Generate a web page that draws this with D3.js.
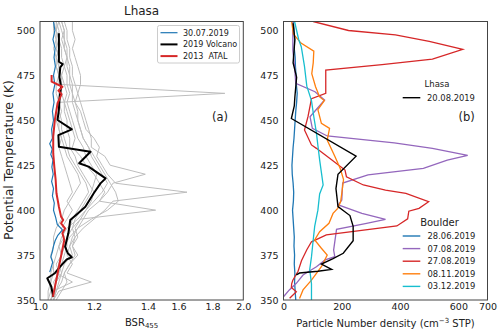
<!DOCTYPE html>
<html><head><meta charset="utf-8">
<script src="https://cdn.jsdelivr.net/npm/d3@7/dist/d3.min.js"></script>
<style>body{margin:0;background:#fff} text{font-family:"DejaVu Sans",sans-serif}</style>
</head><body><svg id="c" width="500" height="334"></svg>
<script>
// ---------- tick labels ----------
const yTicks = [350, 375, 400, 425, 450, 475, 500];
const leftTicks = [1.0, 1.2, 1.4, 1.6, 1.8, 2.0];
const rightTicks = [0, 200, 400, 600, 700];

// ---------- panel (a): BSR455 ----------
const greyT = [350,355,360,365,370,375,380,385,390,395,400,405,410,415,420,425,430,435,440,445,450,455,460,465,470,475,480,485,490,495,500,505];
const grey1 = [1.04,1.05,1.06,1.07,1.08,1.09,1.10,1.10,1.11,1.12,1.14,1.16,1.18,1.17,1.15,1.13,1.11,1.10,1.09,1.08,1.08,1.07,1.07,1.88,1.07,1.07,1.06,1.07,1.06,1.07,1.06,1.06];
const grey2 = [1.05,1.07,1.19,1.10,1.12,1.10,1.11,1.12,1.14,1.16,1.18,1.22,1.25,1.27,1.39,1.26,1.24,1.19,1.19,1.18,1.17,1.16,1.15,1.14,1.13,1.12,1.12,1.11,1.11,1.10,1.10,1.09];
const grey3 = [1.05,1.06,1.08,1.09,1.11,1.14,1.12,1.13,1.16,1.20,1.24,1.27,1.65,1.28,1.25,1.23,1.21,1.22,1.20,1.17,1.16,1.15,1.13,1.14,1.15,1.15,1.14,1.13,1.12,1.13,1.12,1.12];
const grey4 = [1.04,1.05,1.12,1.06,1.07,1.08,1.09,1.10,1.12,1.15,1.45,1.22,1.24,1.22,1.20,1.17,1.15,1.12,1.13,1.12,1.11,1.10,1.09,1.10,1.09,1.08,1.09,1.08,1.08,1.07,1.07,1.06];
const grey5 = [1.03,1.03,1.04,1.04,1.05,1.04,1.05,1.05,1.06,1.08,1.09,1.11,1.13,1.15,1.14,1.12,1.10,1.09,1.08,1.07,1.06,1.06,1.07,1.06,1.06,1.07,1.06,1.06,1.05,1.06,1.06,1.05];
const grey6 = [1.04,1.05,1.06,1.08,1.07,1.08,1.09,1.11,1.14,1.19,1.25,1.29,1.28,1.26,1.24,1.22,1.20,1.18,1.16,1.15,1.14,1.13,1.12,1.12,1.11,1.11,1.10,1.10,1.09,1.08,1.09,1.08];
const grey7 = [1.05,1.06,1.07,1.08,1.09,1.12,1.11,1.13,1.12,1.13,1.15,1.17,1.19,1.20,1.21,1.19,1.17,1.16,1.14,1.13,1.12,1.11,1.10,1.11,1.10,1.10,1.09,1.10,1.09,1.09,1.08,1.07];
const grey8 = [1.03,1.04,1.04,1.05,1.05,1.06,1.07,1.08,1.10,1.14,1.17,1.19,1.20,1.18,1.16,1.14,1.13,1.11,1.11,1.10,1.10,1.09,1.09,1.08,1.08,1.08,1.07,1.07,1.06,1.06,1.05,1.05];
const grey9 = [1.06,1.08,1.10,1.09,1.11,1.13,1.12,1.14,1.13,1.15,1.17,1.20,1.23,1.25,1.23,1.21,1.19,1.18,1.16,1.15,1.14,1.14,1.13,1.12,1.12,1.11,1.11,1.10,1.10,1.09,1.09,1.08];
const grey10 = [1.04,1.06,1.05,1.07,1.06,1.08,1.07,1.09,1.08,1.10,1.12,1.10,1.12,1.11,1.10,1.09,1.08,1.07,1.08,1.07,1.07,1.08,1.07,1.07,1.08,1.07,1.07,1.06,1.07,1.07,1.06,1.07];
const greySeries = [grey1, grey2, grey3, grey4, grey5, grey6, grey7, grey8, grey9, grey10];

const blueAT = [505,500,495,490,485,480,475,470,465,460,455,450,445,440,437,434,431,428,424,420,416,412,408,404,400,396,392,389,386,383,380,377,374,371,368,365.5];
const blueAV = [1.050,1.055,1.048,1.056,1.052,1.057,1.050,1.055,1.048,1.052,1.046,1.050,1.043,1.046,1.036,1.045,1.040,1.048,1.044,1.049,1.043,1.050,1.046,1.053,1.050,1.058,1.064,1.083,1.066,1.056,1.050,1.046,1.040,1.047,1.041,1.036];

const volcT = [498.4,482.6,481.3,479.5,474,468.7,463.1,456,450.2,445.0,441.8,435.3,432.5,426.1,424.2,417.7,414.9,409.4,401.9,398.2,394.5,387.1,379.7,376.0,373.8,372.6,368.5,364.9,362.1,357.4,351.8];
const volcV = [1.070,1.070,1.084,1.075,1.072,1.078,1.073,1.070,1.065,1.118,1.068,1.070,1.187,1.145,1.180,1.243,1.224,1.199,1.168,1.140,1.112,1.105,1.093,1.103,1.118,1.099,1.074,1.055,1.027,1.042,1.049];

const atalT = [475.2,471.5,468.7,466.5,464.6,459.5,450.2,440.9,431.6,424.2,416.8,409.4,401.9,396.4,394.5,392.7,389.9,387.1,383.4,376.0,368.5,359.3,351.8];
const atalV = [1.043,1.043,1.083,1.068,1.080,1.065,1.055,1.049,1.049,1.053,1.058,1.061,1.070,1.078,1.086,1.078,1.093,1.083,1.090,1.080,1.070,1.058,1.048];

// ---------- panel (b): particle number density ----------
const lhasaT = [504,495,482,474,463,458,451,430,420,412,402,397,391,383,376,373,370,367,366,365,364];
const lhasaN = [33,39,33,45,39,37,27,249,187,180,187,228,239,239,205,170,130,165,118,55,44];

const b0628T = [505,500,495,490,485,480,475,470,465,460,455,450,445,440,435,430,425,420,415,410,405,400,395,390,385,380,375,370,365,360,355,350];
const b0628N = [34,36,38,37,40,41,43,44,47,45,42,40,38,36,33,31,29,30,33,35,34,31,33,35,37,36,38,37,39,38,40,42];

const b0807T = [506,489,480,470.6,465.9,461.3,452,445.5,441.3,437.5,434.4,430.5,427.9,423.3,419.6,415.1,405.6,402.9,398.2,394.9,392.7,389.3,377.8,374.1,372.3,368.5,363.9,359.3,355.6,351.8];
const b0807N = [32,32,38,42,108,141,91,99,150,380,511,632,562,480,290,203,200,188,269,350,285,182,172,176,143,113,67,44,20,0];

const b0827T = [505,500,497.5,494,489.5,484,481,478,465,462,452,444.6,436.3,434.4,428,422.3,418.6,414,411.2,409.4,404.7,401,399.4,395.2,391.2,386.2,382.4,378,372,366,361,359,357,354.6,351];
const b0827N = [102,223,384,500,615,511,338,145,145,96,84,72,96,113,165,211,216,274,350,420,498,465,430,426,389,147,96,80,62,50,32,28,27,44,21];

const b1108T = [505,498,493,488.5,482,476,468.7,463,461,456,448.3,445.5,439,430,423,417,409.4,404.7,401,398.2,392.7,388,383.4,378.8,375,368.5,361.1,355.6,350.9];
const b1108N = [28,34,60,104,102,97,110,124,140,118,130,158,150,176,195,206,200,196,186,170,156,124,107,130,150,130,96,67,55];

const b1203T = [505,495,491,480,469,461,452,443,436,428,421,414,409,400,391,382,374,367,359,350];
const b1203N = [38,52,61,72,80,96,104,113,118,124,130,136,124,118,107,101,96,90,96,96];

const boulderLabels = ["28.06.2019","07.08.2019","27.08.2019","08.11.2019","03.12.2019"];
const boulderColors = ["#1f77b4","#9467bd","#d62728","#ff7f0e","#17becf"];
const boulderT = [b0628T, b0807T, b0827T, b1108T, b1203T];
const boulderN = [b0628N, b0807N, b0827N, b1108N, b1203N];

// ---------- drawing ----------
const svg = d3.select("#c");
const yTop = 21.5, yBot = 300;
const y = d3.scaleLinear().domain([350, 505]).range([yBot, yTop]);
const xL = d3.scaleLinear().domain(leftTicks).range([40, 94, 148, 178.5, 212.5, 243.3]);
const xR = d3.scaleLinear().domain([0, 700]).range([283.5, 487.5]);

const defs = svg.append("defs");
defs.append("clipPath").attr("id","clipA").append("rect")
  .attr("x",40).attr("y",yTop).attr("width",203.3).attr("height",yBot-yTop);
defs.append("clipPath").attr("id","clipB").append("rect")
  .attr("x",283.5).attr("y",yTop).attr("width",204).attr("height",yBot-yTop);

const zip = (ts, vs) => ts.map((t,i)=>[vs[i], t]);
const lineA = d3.line().x(d=>xL(d[0])).y(d=>y(d[1]));
const lineB = d3.line().x(d=>xR(d[0])).y(d=>y(d[1]));

// panel a
const gA = svg.append("g").attr("clip-path","url(#clipA)");
greySeries.forEach(s=>{
  gA.append("path").attr("d", lineA(zip(greyT, s))).attr("fill","none")
    .attr("stroke","#bdbdbd").attr("stroke-width",1);
});
gA.append("path").attr("d", lineA(zip(blueAT, blueAV))).attr("fill","none")
  .attr("stroke","#1f77b4").attr("stroke-width",1.2);
gA.append("path").attr("d", lineA(zip(volcT, volcV))).attr("fill","none")
  .attr("stroke","#000").attr("stroke-width",2).attr("stroke-linejoin","round");
gA.append("path").attr("d", lineA(zip(atalT, atalV))).attr("fill","none")
  .attr("stroke","#d62728").attr("stroke-width",2).attr("stroke-linejoin","round");

// panel b
const gB = svg.append("g").attr("clip-path","url(#clipB)");
boulderT.forEach((ts,i)=>{
  gB.append("path").attr("d", lineB(zip(ts, boulderN[i]))).attr("fill","none")
    .attr("stroke", boulderColors[i]).attr("stroke-width",1.3);
});
gB.append("path").attr("d", lineB(zip(lhasaT, lhasaN))).attr("fill","none")
  .attr("stroke","#000").attr("stroke-width",1.4);

// frames
[[40,243.3],[283.5,487.5]].forEach(([a,b])=>{
  svg.append("rect").attr("x",a).attr("y",yTop).attr("width",b-a).attr("height",yBot-yTop)
    .attr("fill","none").attr("stroke","#444").attr("stroke-width",1);
});

// axes
function styleAxis(g){
  g.select(".domain").remove();
  g.selectAll("text").attr("font-family","DejaVu Sans").attr("font-size",9.5).attr("fill","#1a1a1a");
}
svg.append("g").attr("transform","translate(40,0)")
  .call(d3.axisLeft(y).tickValues(yTicks).tickSize(0).tickPadding(5)).call(styleAxis);
svg.append("g").attr("transform","translate(283.5,0)")
  .call(d3.axisLeft(y).tickValues(yTicks).tickSize(0).tickPadding(5)).call(styleAxis);
svg.append("g").attr("transform",`translate(0,${yBot})`)
  .call(d3.axisBottom(xL).tickValues(leftTicks).tickFormat(d3.format(".1f")).tickSize(0).tickPadding(3)).call(styleAxis);
svg.append("g").attr("transform",`translate(0,${yBot})`)
  .call(d3.axisBottom(xR).tickValues(rightTicks).tickFormat(d3.format("d")).tickSize(0).tickPadding(3)).call(styleAxis);

// labels
svg.append("text").attr("x",141.6).attr("y",15).attr("text-anchor","middle")
  .attr("font-size",12).attr("fill","#222").text("Lhasa");
svg.append("text").attr("transform","translate(13,160) rotate(-90)").attr("text-anchor","middle")
  .attr("font-size",12.5).attr("fill","#222").text("Potential Temperature (K)");
const bsr = svg.append("text").attr("x",141.6).attr("y",326).attr("text-anchor","middle")
  .attr("font-size",10).attr("fill","#222");
bsr.append("tspan").text("BSR");
bsr.append("tspan").attr("font-size",7).attr("dy",2).text("455");
const pn = svg.append("text").attr("x",385.5).attr("y",327).attr("text-anchor","middle")
  .attr("font-size",10).attr("fill","#222");
pn.append("tspan").text("Particle Number density (cm");
pn.append("tspan").attr("font-size",7).attr("dy",-4).text("\u22123");
pn.append("tspan").attr("dy",4).text(" STP)");
svg.append("text").attr("x",220).attr("y",121).attr("text-anchor","middle")
  .attr("font-size",11.5).attr("fill","#222").text("(a)");
svg.append("text").attr("x",466.7).attr("y",121).attr("text-anchor","middle")
  .attr("font-size",11.5).attr("fill","#222").text("(b)");

// legend a
const legA = [["30.07.2019","#1f77b4",1.2],["2019 Volcano","#000",2],["2013  ATAL","#d62728",2]];
svg.append("rect").attr("x",157.5).attr("y",25.5).attr("width",82).attr("height",37.5)
  .attr("fill","#fff").attr("fill-opacity",0.8).attr("stroke","#ccc").attr("rx",2);
legA.forEach((d,i)=>{
  const yy = 32.7 + i*11.7;
  svg.append("line").attr("x1",160.5).attr("x2",177.5).attr("y1",yy).attr("y2",yy)
    .attr("stroke",d[1]).attr("stroke-width",d[2]);
  svg.append("text").attr("x",183).attr("y",yy+3).attr("font-size",8).attr("fill","#222")
    .style("white-space","pre").text(d[0]);
});

// legend b
svg.append("text").attr("x",437).attr("y",86.5).attr("text-anchor","middle")
  .attr("font-size",8.5).attr("fill","#222").text("Lhasa");
svg.append("line").attr("x1",402.7).attr("x2",420.3).attr("y1",97.7).attr("y2",97.7)
  .attr("stroke","#000").attr("stroke-width",1.4);
svg.append("text").attr("x",427).attr("y",100.7).attr("font-size",8.4).attr("fill","#222").text("20.08.2019");
svg.append("text").attr("x",439.5).attr("y",226.2).attr("text-anchor","middle")
  .attr("font-size",10).attr("fill","#222").text("Boulder");
boulderLabels.forEach((lab,i)=>{
  const yy = 236 + i*12.6;
  svg.append("line").attr("x1",402.7).attr("x2",420.3).attr("y1",yy).attr("y2",yy)
    .attr("stroke",boulderColors[i]).attr("stroke-width",1.4);
  svg.append("text").attr("x",427.5).attr("y",yy+3).attr("font-size",8.4).attr("fill","#222").text(lab);
});
</script></body></html>
